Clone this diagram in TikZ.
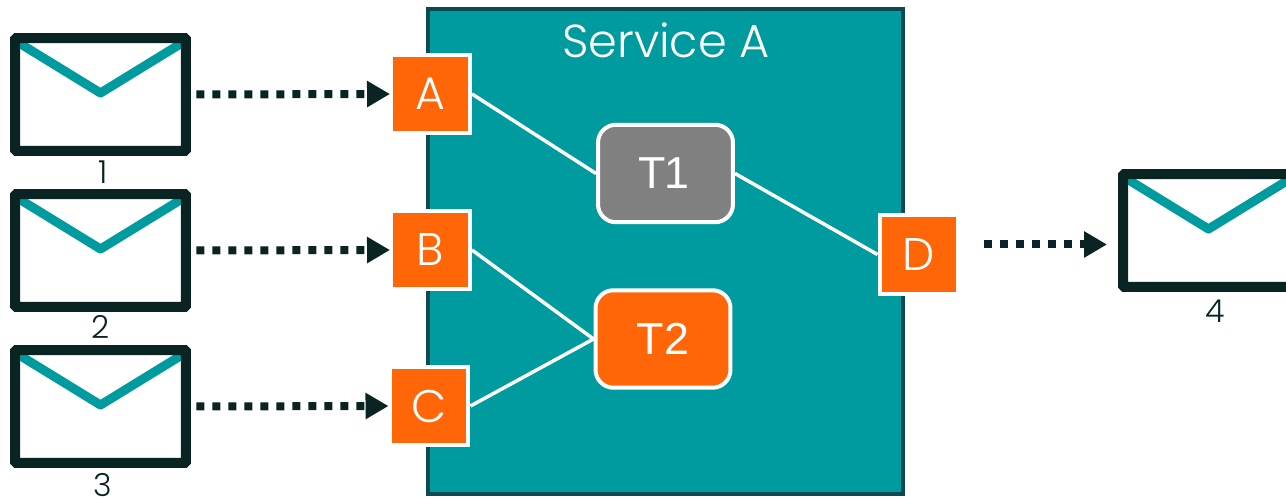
\documentclass[tikz,border=0pt]{standalone}
\usepackage{fontspec}
\setmainfont{Poppins}[UprightFont=* Light]
\newfontfamily\boxfont{Liberation Sans}
\usetikzlibrary{arrows.meta, positioning, calc}
\definecolor{serviceteal}{RGB}{0, 155, 158}
\definecolor{serviceedge}{RGB}{11, 74, 80}
\definecolor{msgdark}{RGB}{10, 36, 36}
\definecolor{portorange}{RGB}{255, 102, 8}
\definecolor{taskgray}{RGB}{128, 128, 128}
\tikzstyle{service} = [draw=serviceedge, line width=0.08cm, fill=serviceteal, minimum width=9.5cm, minimum height=9.7cm]
\tikzstyle{port} = [draw=white, line width=0.08cm, fill=portorange, text=white, minimum size=1.58cm, inner sep=0pt, font=\fontsize{26}{28}\selectfont]
\tikzstyle{task} = [draw=white, line width=0.08cm, rounded corners=0.36cm, text=white, minimum width=2.7cm, minimum height=1.95cm, inner sep=0pt, font=\boxfont\fontsize{25.5}{28}\selectfont]
\tikzstyle{msg} = [draw=msgdark, line width=0.2cm, fill=white, rounded corners=0.03cm, minimum width=3.42cm, minimum height=2.26cm, inner sep=0pt,
    path picture={\draw[serviceteal, line width=0.18cm, sharp corners, line join=round] ([yshift=-0.05cm]path picture bounding box.north west) -- ([yshift=0.03cm]path picture bounding box.center) -- ([yshift=-0.05cm]path picture bounding box.north east);}]
\tikzstyle{msglabel} = [text=msgdark, font=\fontsize{18}{22}\selectfont, inner sep=0pt]
\tikzstyle{wire} = [draw=white, line width=0.07cm]
\tikzstyle{arrow} = [msgdark, line width=0.16cm, dash pattern=on 0.16cm off 0.16cm, -{Triangle[length=0.46cm, width=0.5cm]}]

\begin{document}
\begin{tikzpicture}[x=0.02cm, y=-0.02cm]
\useasboundingbox (0,0) rectangle (1286,499);

% Service box
\node[service] (serviceA) at (665.5,251.5) {};
\node[text=white, font=\fontsize{26.3}{30}\selectfont, inner sep=0pt] (title) at (666,40) {Service A};

% Tasks
\node[task, fill=taskgray] (T1) at (665.5,173.5) {\hspace{-0.08cm}T\kern-0.03cm 1};
\node[task, fill=portorange] (T2) at (663,339) {T2};

% Ports and incoming messages
\foreach \name/\num/\x/\y/\lx/\ly in {A/1/430.5/94/103/172.5, B/2/430.5/250/100.5/326.5, C/3/429/406/103/485.5} {
    \node[port] (\name) at (\x,\y) {\name};
    \node[msg] (msg\num) at (100.5,\y+0.5) {};
    \node[msglabel] (label\num) at (\lx,\ly) {\num};
    \draw[arrow] ([xshift=0.11cm]msg\num.east) -- ([xshift=0.02cm]\name.west);
}

% Outgoing message
\node[port] (D) at (919,254.5) {D};
\node[msg] (msg4) at (1208.5,230.5) {};
\node[msglabel] (label4) at (1215.5,311.5) {4};
\coordinate (msg4in) at ($(msg4.west)+(-11,14)$);
\coordinate (Dout) at ($(D.east)+(24,-10)$);
\draw[arrow] (Dout) -- (msg4in);

% Wires
\draw[wire] (A.east) -- (T1.west);
\draw[wire] (T1.east) -- (D.west);
\draw[wire] (B.east) -- (T2.west);
\draw[wire] (C.east) -- (T2.west);
\end{tikzpicture}
\end{document}
